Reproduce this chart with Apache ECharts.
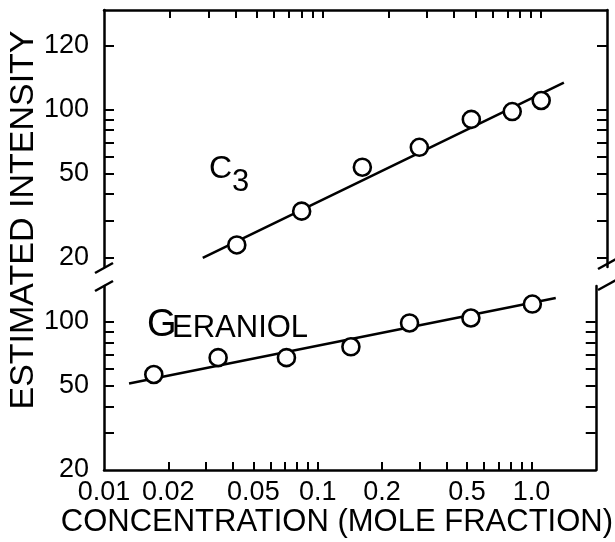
<!DOCTYPE html>
<html><head><meta charset="utf-8">
<script src="https://cdn.jsdelivr.net/npm/echarts@6/dist/echarts.min.js"></script>
<style>html,body{margin:0;padding:0;background:#fff}#c{width:615px;height:542px}</style>
</head><body><div id="c"></div>
<script>
// ---- data ----
const c3X = [0.0405, 0.0802, 0.152, 0.277, 0.479, 0.737, 1.0];
const c3Y = [23.0, 33.2, 53.5, 66.4, 89.9, 97.9, 110.4];
const c3FitX = [0.0283, 1.27];
const c3FitY = [20, 134];
const gerX = [0.0171, 0.0342, 0.0714, 0.143, 0.269, 0.521, 1.01];
const gerY = [56.5, 67.9, 67.9, 76.4, 99.0, 104.5, 121.6];
const gerFitX = [0.0131, 1.30];
const gerFitY = [51.2, 129.8];

const xLabelValues = [0.01, 0.02, 0.05, 0.1, 0.2, 0.5, 1.0];
const xLabels = ['0.01', '0.02', '0.05', '0.1', '0.2', '0.5', '1.0'];
const xTicks = [0.02, 0.03, 0.04, 0.05, 0.06, 0.07, 0.08, 0.09, 0.1, 0.2, 0.3, 0.4, 0.5, 0.6, 0.7, 0.8, 0.9, 1.0];
const upperLabelValues = [20, 50, 100, 200];
const upperLabels = ['20', '50', '100', '120'];
const upperTicks = [20, 30, 40, 50, 60, 70, 80, 90, 100, 200];
const lowerLabelValues = [20, 50, 100];
const lowerLabels = ['20', '50', '100'];
const lowerTicks = [30, 40, 50, 60, 70, 80, 90, 100];

const FONT = 'Liberation Sans, Arial, sans-serif';
const INK = '#000';

function pairs(xs, ys) { return xs.map((x, i) => [x, ys[i]]); }
function lookup(vals, labels) {
  return function (v) {
    for (let i = 0; i < vals.length; i++) {
      if (Math.abs(v - vals[i]) / vals[i] < 1e-6) return labels[i];
    }
    return '';
  };
}

const chart = echarts.init(document.getElementById('c'), null, { renderer: 'canvas' });

const lineW = 2.5;
function xAxisBase(grid, pos, showLabels) {
  return {
    type: 'log', logBase: 10, gridIndex: grid, position: pos, min: 0.01, max: 2.0,
    axisLine: { show: true, onZero: false, lineStyle: { color: INK, width: lineW } },
    axisTick: { show: true, inside: true, length: 8, customValues: xTicks, lineStyle: { color: INK, width: 2 } },
    axisLabel: {
      show: showLabels, customValues: xLabelValues, formatter: lookup(xLabelValues, xLabels),
      color: INK, fontFamily: FONT, fontSize: 27, margin: 9
    },
    splitLine: { show: false }, minorTick: { show: false }
  };
}
function yAxisBase(grid, pos, min, max, ticks, lvals, labels, showLabels) {
  return {
    type: 'log', logBase: 10, gridIndex: grid, position: pos, min: min, max: max,
    axisLine: { show: true, onZero: false, lineStyle: { color: INK, width: lineW } },
    axisTick: { show: true, inside: true, length: 10, customValues: ticks, lineStyle: { color: INK, width: 2 } },
    axisLabel: {
      show: showLabels, customValues: lvals, formatter: lookup(lvals, labels),
      color: INK, fontFamily: FONT, fontSize: 27, margin: 15
    },
    splitLine: { show: false }, minorTick: { show: false }
  };
}

const markerStyle = { color: '#fff', borderColor: INK, borderWidth: 2.6, opacity: 1 };

chart.setOption({
  animation: false,
  backgroundColor: '#fff',
  grid: [
    { left: 104, right: 8, top: 10, height: 257 },
    { left: 104, right: 8, top: 286, bottom: 72 }
  ],
  xAxis: [
    xAxisBase(0, 'top', false),
    Object.assign(xAxisBase(1, 'bottom', true), {
      name: 'CONCENTRATION (MOLE FRACTION)', nameLocation: 'middle', nameGap: 32,
      nameTextStyle: { color: INK, fontFamily: FONT, fontSize: 31, padding: [0, 26, 0, 0] }
    })
  ],
  yAxis: [
    yAxisBase(0, 'left', 18.1, 295, upperTicks, upperLabelValues, upperLabels, true),
    yAxisBase(0, 'right', 18.1, 295, upperTicks, upperLabelValues, upperLabels, false),
    yAxisBase(1, 'left', 20, 148, lowerTicks, lowerLabelValues, lowerLabels, true),
    yAxisBase(1, 'right', 20, 148, lowerTicks, lowerLabelValues, lowerLabels, false)
  ],
  series: [
    { type: 'line', xAxisIndex: 0, yAxisIndex: 0, data: pairs(c3FitX, c3FitY), symbol: 'none',
      lineStyle: { color: INK, width: lineW }, z: 2 },
    { type: 'scatter', xAxisIndex: 0, yAxisIndex: 0, data: pairs(c3X, c3Y), symbol: 'circle', symbolSize: 17,
      itemStyle: markerStyle, z: 3 },
    { type: 'line', xAxisIndex: 1, yAxisIndex: 2, data: pairs(gerFitX, gerFitY), symbol: 'none',
      lineStyle: { color: INK, width: lineW }, z: 2 },
    { type: 'scatter', xAxisIndex: 1, yAxisIndex: 2, data: pairs(gerX, gerY), symbol: 'circle', symbolSize: 17,
      itemStyle: markerStyle, z: 3 }
  ],
  graphic: [
    { type: 'text', x: 24, y: 220, rotation: Math.PI / 2,
      style: { text: 'ESTIMATED INTENSITY', fill: INK, font: '34px ' + FONT, textAlign: 'center', textVerticalAlign: 'middle' } },
    { type: 'text', x: 209, y: 169,
      style: { text: 'C', fill: INK, font: '32px ' + FONT, textAlign: 'left', textVerticalAlign: 'middle' } },
    { type: 'text', x: 232, y: 182,
      style: { text: '3', fill: INK, font: '31px ' + FONT, textAlign: 'left', textVerticalAlign: 'middle' } },
    { type: 'text', x: 147, y: 326,
      style: { text: 'G', fill: INK, font: '38px ' + FONT, textAlign: 'left', textVerticalAlign: 'middle' } },
    { type: 'text', x: 172, y: 328,
      style: { text: 'ERANIOL', fill: INK, font: '31px ' + FONT, textAlign: 'left', textVerticalAlign: 'middle' } },
    // axis break marks
    { type: 'line', shape: { x1: 95, y1: 273, x2: 113, y2: 263 }, style: { stroke: INK, lineWidth: 2.5 } },
    { type: 'line', shape: { x1: 95, y1: 291, x2: 113, y2: 281 }, style: { stroke: INK, lineWidth: 2.5 } },
    { type: 'line', shape: { x1: 598, y1: 269, x2: 616, y2: 259 }, style: { stroke: INK, lineWidth: 2.5 } },
    { type: 'line', shape: { x1: 598, y1: 290, x2: 616, y2: 280 }, style: { stroke: INK, lineWidth: 2.5 } }
  ]
});
</script>
</body></html>
